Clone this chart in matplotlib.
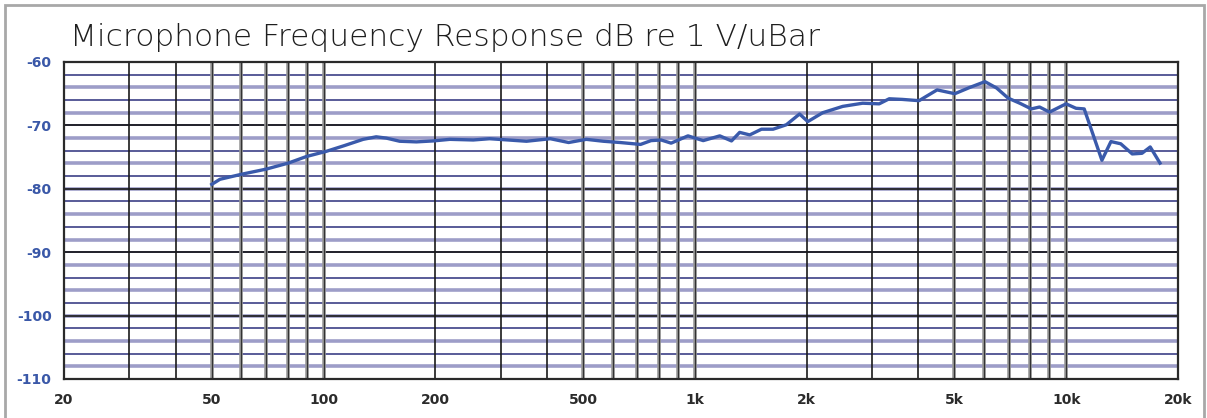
#!/usr/bin/env python3
"""Microphone frequency response chart (log frequency axis, dB re 1 V/uBar)."""

import matplotlib

matplotlib.use("Agg")
import matplotlib.pyplot as plt
from matplotlib.patches import Rectangle
from matplotlib.ticker import FixedLocator, NullLocator

# --- data --------------------------------------------------------------
freq_hz = [
    50, 52.6, 60.2, 70, 80.3, 90, 101.6, 113.6, 127.8, 138.6, 147.5, 160.3,
    177.8, 197.3, 218.9, 253, 280, 352, 408, 457, 510, 567, 629, 714, 762,
    811, 863, 958, 1053, 1167, 1255, 1320, 1405, 1511, 1624, 1763, 1914,
    2014, 2209, 2501, 2830, 3135, 3337, 3620, 4015, 4490, 5012, 5505, 6043,
    6493, 6977, 7496, 8055, 8475, 9015, 9989, 10625, 11180, 12477, 13195,
    14024, 15059, 15996, 16836, 17889,
]
level_db = [
    -79.3, -78.5, -77.7, -76.9, -75.95, -74.9, -74.1, -73.2, -72.2, -71.8,
    -72.0, -72.5, -72.6, -72.45, -72.2, -72.3, -72.1, -72.5, -72.1, -72.7,
    -72.2, -72.5, -72.7, -73.0, -72.4, -72.3, -72.8, -71.65, -72.4, -71.65,
    -72.45, -71.1, -71.5, -70.6, -70.6, -69.9, -68.2, -69.4, -68.0, -67.0,
    -66.5, -66.6, -65.8, -65.9, -66.1, -64.4, -65.0, -64.0, -63.1, -64.1,
    -65.7, -66.5, -67.4, -67.1, -67.9, -66.6, -67.3, -67.4, -75.5, -72.55,
    -72.9, -74.5, -74.4, -73.4, -75.95,
]

x_ticks = [20, 50, 100, 200, 500, 1000, 2000, 5000, 10000, 20000]
x_tick_labels = ["20", "50", "100", "200", "500", "1k", "2k", "5k", "10k", "20k"]
y_ticks = [-60, -70, -80, -90, -100, -110]
y_tick_labels = ["-60", "-70", "-80", "-90", "-100", "-110"]

TITLE = "Microphone Frequency Response dB re 1 V/uBar"

# grid layout of the chart paper
thin_vlines = [30, 40, 200, 300, 400, 2000, 3000, 4000]
thick_vlines = [50, 60, 70, 80, 90, 100, 500, 600, 700, 800, 900, 1000,
                5000, 6000, 7000, 8000, 9000, 10000]
lavender_hlines = list(range(-108, -60, 4))     # every 4 dB
navy_hlines = list(range(-106, -60, 4))         # every 4 dB, offset 2
decade_hlines = [-70, -80, -90, -100]

LINE_COL = "#3a5aab"
LABEL_BLUE = "#3a58a8"

fig = plt.figure(figsize=(12.07, 4.18), dpi=100)
ax = fig.add_axes([64 / 1207, 1 - 379 / 418, (1178 - 64) / 1207, (379 - 62) / 418])

ax.set_xscale("log")
ax.set_xlim(20, 20000)
ax.set_ylim(-110, -60)

for y in lavender_hlines:
    ax.axhline(y, color="#9d9dc8", lw=2.6, zorder=1)
for y in navy_hlines:
    ax.axhline(y, color="#2b2f7c", lw=1.1, zorder=1.2)
for y in decade_hlines:
    ax.axhline(y, color="#1a1a1a", lw=1.2, zorder=1.4)
for x in thick_vlines:
    ax.axvline(x, color="#9a9a9a", lw=2.6, zorder=1.5)
    ax.axvline(x, color="#333333", lw=0.9, zorder=1.6)
for x in thin_vlines:
    ax.axvline(x, color="#1a1a1a", lw=1.2, zorder=1.6)

ax.plot(freq_hz, level_db, color=LINE_COL, lw=2.4, solid_joinstyle="round", zorder=3)

ax.xaxis.set_major_locator(FixedLocator(x_ticks))
ax.xaxis.set_minor_locator(NullLocator())
ax.set_xticklabels(x_tick_labels)
ax.set_yticks(y_ticks)
ax.set_yticklabels(y_tick_labels)
ax.tick_params(axis="x", length=0, pad=10, labelsize=10, labelcolor="#2b2b2b")
ax.tick_params(axis="y", length=0, pad=9, labelsize=10, labelcolor=LABEL_BLUE)
for lab in ax.get_xticklabels() + ax.get_yticklabels():
    lab.set_fontweight("semibold")

for sp in ax.spines.values():
    sp.set_color("#2a2a2a")
    sp.set_linewidth(1.6)
    sp.set_zorder(4)

fig.text(70 / 1207, 1 - 37 / 418, TITLE, ha="left", va="center",
         fontsize=22.5, color="#1e1e1e", fontweight="light")

# outer panel border (no bottom edge visible)
fig.add_artist(Rectangle((5 / 1207, -0.05), 1199 / 1207, 1.05 - 5 / 418,
                         transform=fig.transFigure, fill=False,
                         edgecolor="#a8a8a8", lw=2))

fig.savefig("out.png", dpi=100)
